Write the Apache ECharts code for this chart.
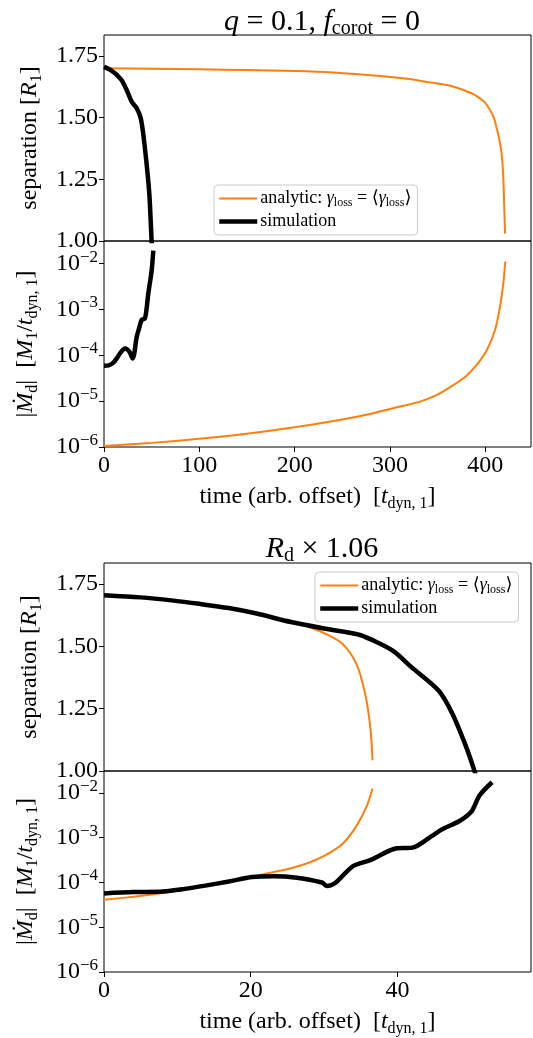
<!DOCTYPE html>
<html>
<head>
<meta charset="utf-8">
<script src="https://cdn.jsdelivr.net/npm/echarts@6/dist/echarts.min.js"></script>
<style>
  html, body { margin: 0; padding: 0; background: #fff; }
  #chart { width: 533px; height: 1038px; }
</style>
</head>
<body>
<div id="chart"></div>
<script>
// ---- data ----
// top chart: q = 0.1, f_corot = 0
const topSepAnalytic = [[0, 1.700], [50, 1.698], [100, 1.696], [150, 1.693], [200, 1.689], [240, 1.683],
  [290, 1.669], [320, 1.657], [342, 1.643], [355, 1.635], [365, 1.627], [377, 1.612], [386, 1.598],
  [394.5, 1.578], [400, 1.560], [405, 1.531], [409, 1.50], [412, 1.457], [414, 1.425], [416, 1.385],
  [417.5, 1.34], [418.5, 1.29], [419.3, 1.22], [419.9, 1.14], [420.4, 1.08], [420.8, 1.03]]
const topSepSim = [[0, 1.706], [5, 1.697], [9.8, 1.685], [14, 1.671], [18.5, 1.652], [23.8, 1.612],
  [29, 1.565], [34.3, 1.538], [38.5, 1.498], [41.3, 1.43], [44.8, 1.309], [47.6, 1.188], [49, 1.081],
  [50, 0.995], [50.5, 0.96]]
const topMdotAnalytic = [[0, 1.05e-6], [50, 1.23e-6], [100, 1.51e-6], [150, 1.95e-6], [200, 2.69e-6],
  [250, 3.98e-6], [279, 5.25e-6], [300, 6.76e-6], [331.6, 9.77e-6], [350, 1.38e-5], [366.5, 2.24e-5],
  [380, 3.55e-5], [391, 6.17e-5], [401.6, 1.29e-4], [410.3, 3.55e-4], [415.5, 1.15e-3], [419, 3.72e-3],
  [421, 1.10e-2]]
const topMdotSim = [[0, 5.9e-5], [5, 6.0e-5], [9.8, 6.9e-5], [14, 8.9e-5], [16.8, 1.10e-4], [22, 1.41e-4],
  [26.6, 1.20e-4], [30.1, 8.5e-5], [34.3, 2.51e-4], [37, 3.98e-4], [39.5, 5.89e-4], [43, 6.31e-4],
  [46.5, 2.24e-3], [50, 7.08e-3], [51.7, 1.91e-2]]

// bottom chart: R_d x 1.06
const botSepAnalytic = [[0, 1.705], [5, 1.696], [9.2, 1.685], [13, 1.671], [17, 1.653], [20.8, 1.631],
  [25.5, 1.597], [27.9, 1.578], [30.2, 1.551], [32.5, 1.511], [34.4, 1.43], [35.6, 1.309], [36.3, 1.175],
  [36.6, 1.043]]
const botSepSim = [[0, 1.706], [5, 1.697], [9.2, 1.685], [13, 1.671], [17, 1.654], [20.8, 1.632],
  [25.5, 1.598], [30.2, 1.571], [32.5, 1.560], [34.9, 1.546], [37.2, 1.517], [39.5, 1.48], [41.9, 1.417],
  [45.6, 1.323], [47.5, 1.229], [49.4, 1.094], [50.5, 1.0], [50.8, 0.97]]
const botMdotAnalytic = [[0, 4.1e-5], [4, 4.8e-5], [8, 5.8e-5], [12, 7.4e-5], [16, 9.8e-5], [20.2, 1.35e-4],
  [23, 1.7e-4], [25.5, 2.09e-4], [28, 2.8e-4], [30.2, 4.07e-4], [32.5, 7.24e-4], [34.4, 1.82e-3],
  [35.8, 5.0e-3], [36.6, 1.26e-2]]
const botMdotSim = [[0, 5.7e-5], [4, 6.1e-5], [8, 6.3e-5], [11, 7.2e-5], [13.8, 8.5e-5], [17, 1.05e-4],
  [20.2, 1.32e-4], [23.2, 1.38e-4], [26, 1.30e-4], [29.7, 1.0e-4], [30.4, 8.3e-5], [31.6, 1.0e-4],
  [33.9, 2.3e-4], [36.3, 3.16e-4], [39.5, 5.6e-4], [42.3, 6.2e-4], [44.7, 1.10e-3], [46.1, 1.55e-3],
  [48.4, 2.34e-3], [50.1, 3.9e-3], [51.2, 8.9e-3], [52.9, 1.74e-2]]

const sepTicks = [1.0, 1.25, 1.5, 1.75]
const topTimeTicks = [0, 100, 200, 300, 400]
const botTimeTicks = [0, 20, 40]
const topTimeMax = 448
const botTimeMax = 58.2

const FONT = '"Liberation Serif", "DejaVu Serif", serif'
const ORANGE = '#ff7f0e'
const SIM_WIDTH = 4.5
const ANA_WIDTH = 2

function richFor(size, lh) {
  return {
    i: { fontStyle: 'italic', fontFamily: FONT, fontSize: size, lineHeight: lh },
    n: { fontFamily: FONT, fontSize: size, lineHeight: lh },
    sub: { fontFamily: FONT, fontSize: Math.round(size * 0.66), verticalAlign: 'bottom', lineHeight: Math.round(size * 0.66) },
    sup: { fontFamily: FONT, fontSize: Math.round(size * 0.7), verticalAlign: 'top', lineHeight: Math.round(size * 0.7) }
  }
}

const chart = echarts.init(document.getElementById('chart'))

const grids = [
  { left: 104, right: 2, top: 35, height: 206 },
  { left: 104, right: 2, top: 241, height: 206 },
  { left: 104, right: 2, top: 563, height: 208 },
  { left: 104, right: 2, top: 771, height: 206 }
].map(g => ({ ...g, show: true, borderColor: '#000', borderWidth: 1, backgroundColor: 'transparent' }))

const tickLabel = { fontFamily: FONT, fontSize: 24, color: '#000' }
const nameStyle = { fontFamily: FONT, fontSize: 24, color: '#000', lineHeight: 30, rich: richFor(24, 30) }

function xAxisFor(idx, max, ticks, labelled) {
  return {
    type: 'value', gridIndex: idx, min: 0, max: max,
    axisLine: { show: false },
    splitLine: { show: false },
    axisTick: { show: labelled, inside: false, length: 5, lineStyle: { color: '#000' }, customValues: ticks },
    axisLabel: { show: labelled, ...tickLabel, margin: 7, customValues: ticks },
    name: labelled ? 'time (arb. offset)  [{i|t}{sub|dyn, 1}]' : '',
    nameLocation: 'middle', nameGap: 35, nameTextStyle: nameStyle
  }
}

function sepAxis(idx) {
  return {
    type: 'value', gridIndex: idx, min: 1.0, max: 1.835,
    axisLine: { show: false }, splitLine: { show: false },
    axisTick: { show: true, length: 5, lineStyle: { color: '#000' }, customValues: sepTicks },
    axisLabel: { ...tickLabel, margin: 6, customValues: sepTicks, formatter: v => v.toFixed(2) },
    name: 'separation [{i|R}{sub|1}]',
    nameLocation: 'middle', nameGap: 50, nameTextStyle: nameStyle
  }
}

function mdotAxis(idx) {
  return {
    type: 'log', logBase: 10, gridIndex: idx, min: 1e-6, max: 0.031, splitNumber: 5,
    axisLine: { show: false }, splitLine: { show: false },
    axisTick: { show: true, length: 5, lineStyle: { color: '#000' } },
    axisLabel: {
      ...tickLabel, margin: 6, showMaxLabel: false, lineHeight: 30, rich: richFor(24, 30),
      formatter: v => {
        const e = Math.round(Math.log10(v))
        if (Math.abs(Math.log10(v) - e) > 0.01) return ''
        return '{n|10}{sup|\u2212' + Math.abs(e) + '}'
      }
    },
    name: '|{i|\u1E40}{sub|d}|  [{i|M}{sub|1}/{i|t}{sub|dyn, 1}]',
    nameLocation: 'middle', nameGap: 63, nameTextStyle: nameStyle
  }
}

function line(name, data, x, y) {
  const sim = name === 'simulation'
  return {
    name: name, type: 'line', data: data, xAxisIndex: x, yAxisIndex: y,
    showSymbol: false, symbol: 'none', smooth: 0.3, clip: true,
    lineStyle: { color: sim ? '#000' : ORANGE, width: sim ? SIM_WIDTH : ANA_WIDTH },
    itemStyle: { color: sim ? '#000' : ORANGE },
    z: sim ? 3 : 2
  }
}

const legendRich = richFor(18, 21)
const legendBase = {
  orient: 'vertical', itemGap: 2, itemWidth: 38, itemHeight: 14,
  padding: [3, 6, 3, 3], borderColor: '#ccc', borderWidth: 1, borderRadius: 4, backgroundColor: '#fff',
  data: [
    { name: 'analytic', lineStyle: { width: ANA_WIDTH } },
    { name: 'simulation', lineStyle: { width: SIM_WIDTH } }
  ],
  itemStyle: { opacity: 0 },
  textStyle: { fontFamily: FONT, fontSize: 18, color: '#000', lineHeight: 21, rich: legendRich, padding: [0, 0, 0, -2] },
  formatter: name => name === 'analytic'
    ? 'analytic: {i|\u03B3}{sub|loss} = \u27E8{i|\u03B3}{sub|loss}\u27E9'
    : 'simulation',
  selectedMode: false
}

chart.setOption({
  animation: false,
  title: [
    { text: '{i|q} = 0.1, {i|f}{sub|corot} = 0', left: 317, textAlign: 'center', top: 0,
      textStyle: { fontFamily: FONT, fontSize: 30, fontWeight: 'normal', color: '#000', lineHeight: 34, rich: richFor(30, 34) } },
    { text: '{i|R}{sub|d} \u00D7 1.06', left: 317, textAlign: 'center', top: 527,
      textStyle: { fontFamily: FONT, fontSize: 30, fontWeight: 'normal', color: '#000', lineHeight: 34, rich: richFor(30, 34) } }
  ],
  legend: [
    { ...legendBase, left: 214, top: 185 },
    { ...legendBase, left: 315, top: 572 }
  ],
  grid: grids,
  xAxis: [
    xAxisFor(0, topTimeMax, topTimeTicks, false),
    xAxisFor(1, topTimeMax, topTimeTicks, true),
    xAxisFor(2, botTimeMax, botTimeTicks, false),
    xAxisFor(3, botTimeMax, botTimeTicks, true)
  ],
  yAxis: [sepAxis(0), mdotAxis(1), sepAxis(2), mdotAxis(3)],
  series: [
    line('analytic', topSepAnalytic, 0, 0),
    line('simulation', topSepSim, 0, 0),
    line('analytic', topMdotAnalytic, 1, 1),
    line('simulation', topMdotSim, 1, 1),
    line('analytic', botSepAnalytic, 2, 2),
    line('simulation', botSepSim, 2, 2),
    line('analytic', botMdotAnalytic, 3, 3),
    line('simulation', botMdotSim, 3, 3)
  ]
})
</script>
</body>
</html>
